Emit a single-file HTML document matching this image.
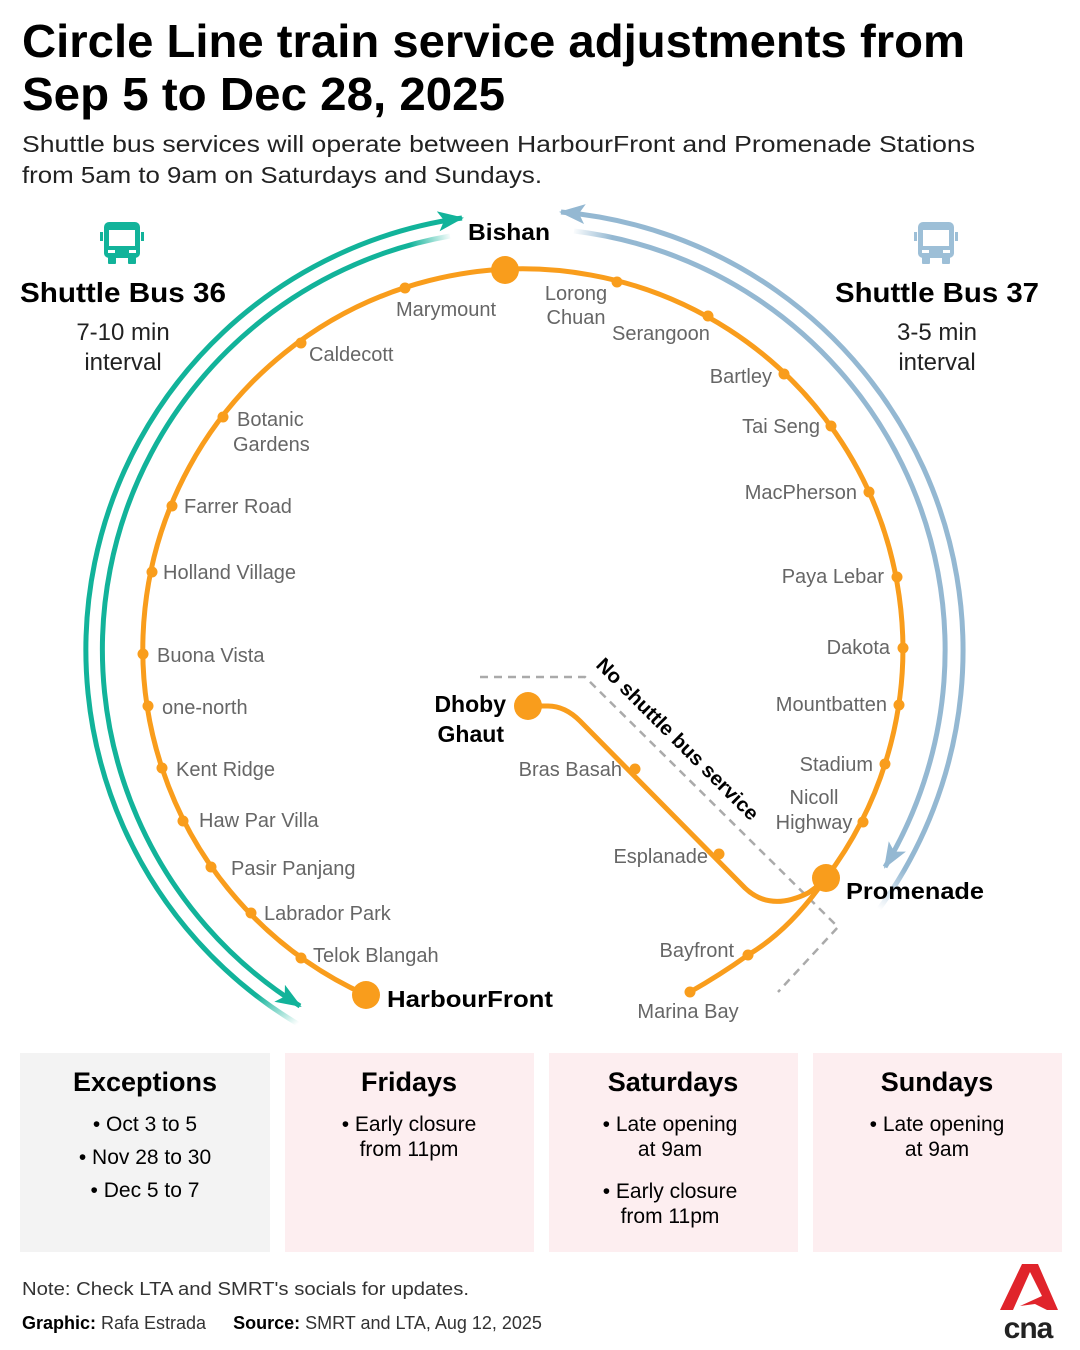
<!DOCTYPE html>
<html><head><meta charset="utf-8"><style>
body{margin:0;background:#fff;}
svg{display:block;font-family:"Liberation Sans",sans-serif;}
.st{font-size:20px;fill:#666;}
.big{font-size:23px;font-weight:bold;fill:#000;}
</style></head><body>
<svg width="1080" height="1350" viewBox="0 0 1080 1350">
<defs>
<marker id="mt" markerWidth="30" markerHeight="30" refX="24" refY="10" orient="auto" markerUnits="userSpaceOnUse"><path d="M0,0 L26,10 L0,20 L6,10Z" fill="#12b39a"/></marker>
<marker id="mb" markerWidth="30" markerHeight="30" refX="24" refY="10" orient="auto" markerUnits="userSpaceOnUse"><path d="M0,0 L26,10 L0,20 L6,10Z" fill="#94b8d2"/></marker>
<linearGradient id="g1" gradientUnits="userSpaceOnUse" x1="300" y1="1022" x2="270" y2="985"><stop offset="0" stop-color="#12b39a" stop-opacity="0"/><stop offset="1" stop-color="#12b39a"/></linearGradient>
<linearGradient id="g2" gradientUnits="userSpaceOnUse" x1="452" y1="236" x2="410" y2="246"><stop offset="0" stop-color="#12b39a" stop-opacity="0"/><stop offset="1" stop-color="#12b39a"/></linearGradient>
<linearGradient id="g3" gradientUnits="userSpaceOnUse" x1="572" y1="231" x2="612" y2="238"><stop offset="0" stop-color="#94b8d2" stop-opacity="0"/><stop offset="1" stop-color="#94b8d2"/></linearGradient>
<linearGradient id="g4" gradientUnits="userSpaceOnUse" x1="879" y1="909" x2="905" y2="870"><stop offset="0" stop-color="#94b8d2" stop-opacity="0"/><stop offset="1" stop-color="#94b8d2"/></linearGradient>
</defs>

<text x="22" y="57" font-size="46" font-weight="bold" fill="#000" textLength="943" lengthAdjust="spacingAndGlyphs">Circle Line train service adjustments from</text>
<text x="22" y="110" font-size="46" font-weight="bold" fill="#000" textLength="483" lengthAdjust="spacingAndGlyphs">Sep 5 to Dec 28, 2025</text>
<text x="22" y="152" font-size="23" fill="#222" textLength="953" lengthAdjust="spacingAndGlyphs">Shuttle bus services will operate between HarbourFront and Promenade Stations</text>
<text x="22" y="183" font-size="23" fill="#222" textLength="520" lengthAdjust="spacingAndGlyphs">from 5am to 9am on Saturdays and Sundays.</text>

<path d="M298,1024 A436,436 0 0 1 462,218" fill="none" stroke="url(#g1)" stroke-width="5" marker-end="url(#mt)"/>
<path d="M450,236 A420,420 0 0 0 300,1006" fill="none" stroke="url(#g2)" stroke-width="5" marker-end="url(#mt)"/>
<path d="M879,909 A440,440 0 0 0 561,212" fill="none" stroke="url(#g4)" stroke-width="5" marker-end="url(#mb)"/>
<path d="M574,231 A422,422 0 0 1 885,867" fill="none" stroke="url(#g3)" stroke-width="5" marker-end="url(#mb)"/>

<path d="M480,677 L585,677 L838,927 L778,992" fill="none" stroke="#aaa" stroke-width="2.5" stroke-dasharray="8,6"/>

<path d="M366,995 A380,380 0 1 1 826,878" fill="none" stroke="#f99d1c" stroke-width="5"/>
<path d="M528,706 L548,706 Q565,706 580,721 L745,888 Q770,912 808,893 Q820,885 826,878 Q790,930 748,955 Q720,975 690,992" fill="none" stroke="#f99d1c" stroke-width="5" stroke-linejoin="round"/>

<g fill="#f99d1c">
<circle cx="505" cy="270" r="14"/><circle cx="366" cy="995" r="14"/><circle cx="826" cy="878" r="14"/><circle cx="528" cy="706" r="14"/>
<circle cx="405" cy="288" r="5.5"/><circle cx="617" cy="282" r="5.5"/><circle cx="708" cy="316" r="5.5"/>
<circle cx="301" cy="343" r="5.5"/><circle cx="223" cy="417" r="5.5"/><circle cx="172" cy="506" r="5.5"/>
<circle cx="152" cy="572" r="5.5"/><circle cx="143" cy="654" r="5.5"/><circle cx="148" cy="706" r="5.5"/>
<circle cx="162" cy="768" r="5.5"/><circle cx="183" cy="821" r="5.5"/><circle cx="211" cy="867" r="5.5"/>
<circle cx="251" cy="913" r="5.5"/><circle cx="301" cy="958" r="5.5"/>
<circle cx="784" cy="374" r="5.5"/><circle cx="831" cy="426" r="5.5"/><circle cx="869" cy="492" r="5.5"/>
<circle cx="897" cy="577" r="5.5"/><circle cx="903" cy="648" r="5.5"/><circle cx="899" cy="705" r="5.5"/>
<circle cx="885" cy="764" r="5.5"/><circle cx="863" cy="822" r="5.5"/>
<circle cx="635" cy="769" r="5.5"/><circle cx="719" cy="854" r="5.5"/><circle cx="748" cy="955" r="5.5"/><circle cx="690" cy="992" r="5.5"/>
</g>

<text class="st" x="396" y="316">Marymount</text>
<text class="st" x="576" y="300" text-anchor="middle">Lorong</text>
<text class="st" x="576" y="324" text-anchor="middle">Chuan</text>
<text class="st" x="612" y="340">Serangoon</text>
<text class="st" x="309" y="361">Caldecott</text>
<text class="st" x="237" y="426">Botanic</text>
<text class="st" x="233" y="451">Gardens</text>
<text class="st" x="184" y="513">Farrer Road</text>
<text class="st" x="163" y="579">Holland Village</text>
<text class="st" x="157" y="662">Buona Vista</text>
<text class="st" x="162" y="714">one-north</text>
<text class="st" x="176" y="776">Kent Ridge</text>
<text class="st" x="199" y="827">Haw Par Villa</text>
<text class="st" x="231" y="875">Pasir Panjang</text>
<text class="st" x="264" y="920">Labrador Park</text>
<text class="st" x="313" y="962">Telok Blangah</text>
<text class="st" x="772" y="383" text-anchor="end">Bartley</text>
<text class="st" x="820" y="433" text-anchor="end">Tai Seng</text>
<text class="st" x="857" y="499" text-anchor="end">MacPherson</text>
<text class="st" x="884" y="583" text-anchor="end">Paya Lebar</text>
<text class="st" x="890" y="654" text-anchor="end">Dakota</text>
<text class="st" x="887" y="711" text-anchor="end">Mountbatten</text>
<text class="st" x="873" y="771" text-anchor="end">Stadium</text>
<text class="st" x="814" y="804" text-anchor="middle">Nicoll</text>
<text class="st" x="814" y="829" text-anchor="middle">Highway</text>
<text class="st" x="622" y="776" text-anchor="end">Bras Basah</text>
<text class="st" x="708" y="863" text-anchor="end">Esplanade</text>
<text class="st" x="734" y="957" text-anchor="end">Bayfront</text>
<text class="st" x="688" y="1018" text-anchor="middle">Marina Bay</text>

<text class="big" x="468" y="240" textLength="82" lengthAdjust="spacingAndGlyphs">Bishan</text>
<text class="big" x="387" y="1007" textLength="166" lengthAdjust="spacingAndGlyphs">HarbourFront</text>
<text class="big" x="846" y="899" textLength="138" lengthAdjust="spacingAndGlyphs">Promenade</text>
<text class="big" x="506" y="712" text-anchor="end">Dhoby</text>
<text class="big" x="504" y="742" text-anchor="end">Ghaut</text>
<text x="0" y="0" font-size="20" font-weight="bold" fill="#000" transform="translate(595,666) rotate(45)" textLength="220" lengthAdjust="spacingAndGlyphs">No shuttle bus service</text>

<g fill="#12b39a"><rect x="104" y="222" width="36" height="36" rx="5"/><rect x="100" y="232" width="3" height="9"/><rect x="141" y="232" width="3" height="9"/><rect x="108" y="257" width="8" height="7" rx="1"/><rect x="128" y="257" width="8" height="7" rx="1"/></g>
<rect x="109" y="230" width="26" height="16" fill="#fff"/><rect x="108" y="250" width="7" height="3" fill="#fff"/><rect x="129" y="250" width="7" height="3" fill="#fff"/>
<g fill="#9dbfd7"><rect x="918" y="222" width="36" height="36" rx="5"/><rect x="914" y="232" width="3" height="9"/><rect x="955" y="232" width="3" height="9"/><rect x="922" y="257" width="8" height="7" rx="1"/><rect x="942" y="257" width="8" height="7" rx="1"/></g>
<rect x="923" y="230" width="26" height="16" fill="#fff"/><rect x="922" y="250" width="7" height="3" fill="#fff"/><rect x="943" y="250" width="7" height="3" fill="#fff"/>

<text x="123" y="302" font-size="28" font-weight="bold" text-anchor="middle" fill="#000" textLength="206" lengthAdjust="spacingAndGlyphs">Shuttle Bus 36</text>
<text x="123" y="340" font-size="24" text-anchor="middle" fill="#222">7-10 min</text>
<text x="123" y="370" font-size="24" text-anchor="middle" fill="#222">interval</text>
<text x="937" y="302" font-size="28" font-weight="bold" text-anchor="middle" fill="#000" textLength="204" lengthAdjust="spacingAndGlyphs">Shuttle Bus 37</text>
<text x="937" y="340" font-size="24" text-anchor="middle" fill="#222">3-5 min</text>
<text x="937" y="370" font-size="24" text-anchor="middle" fill="#222">interval</text>

<rect x="20" y="1053" width="250" height="199" fill="#f3f3f3"/>
<rect x="285" y="1053" width="249" height="199" fill="#fdeef0"/>
<rect x="549" y="1053" width="249" height="199" fill="#fdeef0"/>
<rect x="813" y="1053" width="249" height="199" fill="#fdeef0"/>
<g font-size="21" fill="#000" text-anchor="middle">
<text x="145" y="1091" font-size="27" font-weight="bold">Exceptions</text>
<text x="145" y="1131">• Oct 3 to 5</text>
<text x="145" y="1164">• Nov 28 to 30</text>
<text x="145" y="1197">• Dec 5 to 7</text>
<text x="409" y="1091" font-size="27" font-weight="bold">Fridays</text>
<text x="409" y="1131">• Early closure</text>
<text x="409" y="1156">from 11pm</text>
<text x="673" y="1091" font-size="27" font-weight="bold">Saturdays</text>
<text x="670" y="1131">• Late opening</text>
<text x="670" y="1156">at 9am</text>
<text x="670" y="1198">• Early closure</text>
<text x="670" y="1223">from 11pm</text>
<text x="937" y="1091" font-size="27" font-weight="bold">Sundays</text>
<text x="937" y="1131">• Late opening</text>
<text x="937" y="1156">at 9am</text>
</g>

<text x="22" y="1295" font-size="18" fill="#333" textLength="447" lengthAdjust="spacingAndGlyphs">Note: Check LTA and SMRT's socials for updates.</text>
<text x="22" y="1329" font-size="18" fill="#333"><tspan font-weight="bold" fill="#000">Graphic:</tspan> Rafa Estrada <tspan dx="22" font-weight="bold" fill="#000">Source:</tspan> SMRT and LTA, Aug 12, 2025</text>

<path d="M1000,1310 L1022,1264 L1038,1264 L1058,1310 L1047,1310 L1035,1304 L1020,1306 L1042,1296 L1030,1272 L1013,1310Z" fill="#e0242b"/>
<text x="1028" y="1338" font-size="30" font-weight="bold" text-anchor="middle" fill="#222" letter-spacing="-1">cna</text>
</svg>
</body></html>
